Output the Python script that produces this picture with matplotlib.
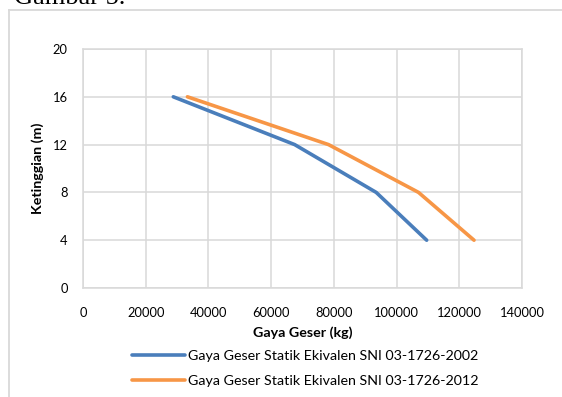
import matplotlib

matplotlib.use("Agg")

import matplotlib.pyplot as plt
from matplotlib.lines import Line2D

plt.rcParams["font.family"] = ["Lato", "DejaVu Sans"]

# shear force per storey level (kg) against height (m)
heights = [16, 12, 8, 4]
shear_2002 = [28800, 67500, 93500, 109600]
shear_2012 = [33300, 78300, 107000, 124700]
series_labels = [
    "Gaya Geser Statik Ekivalen SNI 03-1726-2002",
    "Gaya Geser Statik Ekivalen SNI 03-1726-2012",
]
x_ticks = [0, 20000, 40000, 60000, 80000, 100000, 120000, 140000]
y_ticks = [0, 4, 8, 12, 16, 20]

BLUE = "#4a7ebb"
ORANGE = "#f79646"
GRID = "#d9d9d9"

fig = plt.figure(figsize=(5.62, 3.97), dpi=100)
W, H = 562, 397
ax = fig.add_axes([83 / W, 1 - 288 / H, (522 - 83) / W, (288 - 49) / H])

ax.plot(shear_2002, heights, color=BLUE, linewidth=2.6, solid_capstyle="round")
ax.plot(shear_2012, heights, color=ORANGE, linewidth=2.6, solid_capstyle="round")

ax.set_xlim(0, 140000)
ax.set_ylim(0, 20)
ax.set_xticks(x_ticks)
ax.set_yticks(y_ticks)
ax.tick_params(length=0, labelsize=9.3, colors="#000000")
ax.tick_params(axis="x", pad=14)
ax.tick_params(axis="y", pad=11)
ax.grid(True, color=GRID, linewidth=1.1)
ax.set_axisbelow(True)
for spine in ax.spines.values():
    spine.set_color(GRID)
    spine.set_linewidth(1.1)

ax.set_xlabel("Gaya Geser (kg)", fontsize=10.3, fontweight="bold", labelpad=5)
ax.set_ylabel("Ketinggian (m)", fontsize=10.3, fontweight="bold", labelpad=6)

handles = [
    Line2D([], [], color=BLUE, linewidth=2.6, solid_capstyle="round"),
    Line2D([], [], color=ORANGE, linewidth=2.6, solid_capstyle="round"),
]
fig.legend(
    handles, series_labels, loc="upper left", bbox_to_anchor=(126 / W, 1 - 344 / H),
    frameon=False, fontsize=10.3, handlelength=3.7, handletextpad=0.25, labelspacing=0.95,
    borderaxespad=0,
)

# chart frame: top and left edges only
fig.add_artist(Line2D([9 / W, 1], [1 - 10 / H, 1 - 10 / H], color=GRID, linewidth=1.3))
fig.add_artist(Line2D([9 / W, 9 / W], [0, 1 - 10 / H], color=GRID, linewidth=1.3))

# figure caption above the chart, cut by the top edge
fig.text(14 / W, 1 - 4 / H, "Gambar 5.", family="Liberation Serif", fontsize=19,
         va="baseline", ha="left")

fig.savefig("out.png", dpi=100)
